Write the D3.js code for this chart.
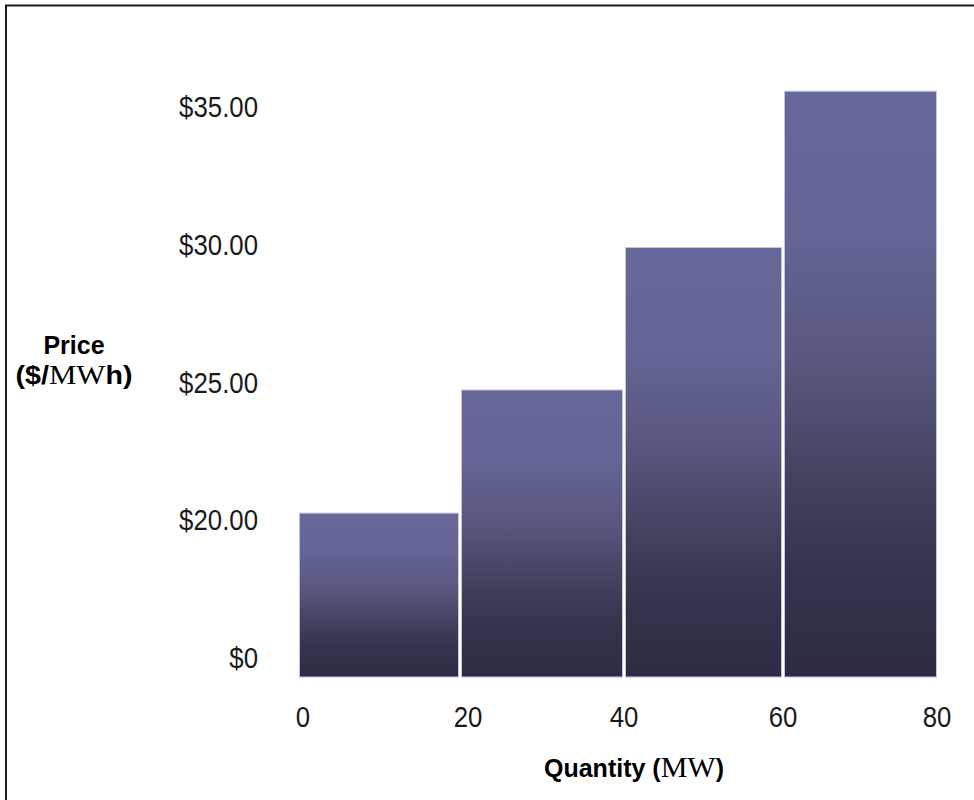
<!DOCTYPE html>
<html>
<head>
<meta charset="utf-8">
<script src="https://cdn.jsdelivr.net/npm/d3@7"></script>
<style>
  html, body { margin: 0; padding: 0; background: #fff; }
  svg { display: block; }
</style>
</head>
<body>
<svg id="chart" width="974" height="800"></svg>
<script>
// ---- data ----
const quantityEdges = [0, 20, 40, 60, 80];           // MW block boundaries
const prices = [20.9, 25.35, 30.5, 36.15];           // $/MWh per block
const yTickValues = [0, 20, 25, 30, 35];
const yTickLabels = ["$0", "$20.00", "$25.00", "$30.00", "$35.00"];
const xTickValues = [0, 20, 40, 60, 80];
const xTickLabels = ["0", "20", "40", "60", "80"];

const blocks = prices.map((p, i) => ({ x0: quantityEdges[i], x1: quantityEdges[i + 1], price: p, i }));

const svg = d3.select("#chart");
const sans = "'Liberation Sans', Arial, sans-serif";
const serif = "'Liberation Serif', 'Times New Roman', serif";

// frame
svg.append("rect")
  .attr("x", 6).attr("y", 5.5).attr("width", 1100).attr("height", 1100)
  .attr("fill", "none").attr("stroke", "#1a1a1a").attr("stroke-width", 2);

// scales (piecewise to match original broken axis layout)
const x = d3.scaleLinear().domain(quantityEdges).range([299, 460, 624, 783, 937]);
const y = d3.scaleLinear().domain([0, 20, 35]).range([677, 538, 123]);

// gradient
const defs = svg.append("defs");
const grad = defs.append("linearGradient").attr("id", "barGrad")
  .attr("x1", 0).attr("y1", 0).attr("x2", 0).attr("y2", 1);
[["0%", "#67679a"], ["25%", "#646495"], ["48%", "#56567d"], ["66%", "#43425f"],
 ["82%", "#35344e"], ["100%", "#2d2c44"]].forEach(([o, c]) =>
  grad.append("stop").attr("offset", o).attr("stop-color", c));

// bars
svg.append("g").selectAll("rect").data(blocks).join("rect")
  .attr("x", d => x(d.x0) + (d.i > 0 ? 1.5 : 0.5))
  .attr("width", d => x(d.x1) - x(d.x0) - (d.i > 0 ? 1.5 : 0.5) - (d.i < prices.length - 1 ? 1.5 : 0.5))
  .attr("y", d => y(d.price))
  .attr("height", d => y(0) - y(d.price))
  .attr("fill", "url(#barGrad)")
  .attr("stroke", "#c4c4dc").attr("stroke-width", 1);

// y tick labels (equally spaced as in the original)
const yLabelScale = d3.scalePoint().domain(yTickValues).range([668, 117]);
svg.append("g").selectAll("text").data(yTickValues).join("text")
  .attr("transform", d => `translate(258,${yLabelScale(d)}) scale(0.86,1)`)
  .attr("text-anchor", "end")
  .attr("font-family", sans)
  .attr("font-size", 30)
  .attr("fill", "#1a1a1a")
  .text((d, i) => yTickLabels[i]);

// x tick labels
svg.append("g").selectAll("text").data(xTickValues).join("text")
  .attr("transform", d => `translate(${x(d) + (d === 0 ? 4 : d === 20 ? 8 : 0)},727) scale(0.86,1)`)
  .attr("text-anchor", "middle")
  .attr("font-family", sans)
  .attr("font-size", 30)
  .attr("fill", "#1a1a1a")
  .text((d, i) => xTickLabels[i]);

// axis titles
svg.append("text")
  .attr("x", 74).attr("y", 354).attr("text-anchor", "middle")
  .attr("font-family", sans).attr("font-weight", "bold").attr("font-size", 25)
  .attr("fill", "#000").text("Price");

const t2 = svg.append("text")
  .attr("transform", "translate(74,384) scale(1.1,1)")
  .attr("text-anchor", "middle")
  .attr("fill", "#000");
t2.append("tspan").attr("font-family", sans).attr("font-weight", "bold").attr("font-size", 26).text("($/");
t2.append("tspan").attr("font-family", serif).attr("font-weight", "normal").attr("font-size", 28).text("MW");
t2.append("tspan").attr("font-family", sans).attr("font-weight", "bold").attr("font-size", 26).text("h)");

const t3 = svg.append("text")
  .attr("x", 634).attr("y", 777).attr("text-anchor", "middle")
  .attr("fill", "#000");
t3.append("tspan").attr("font-family", sans).attr("font-weight", "bold").attr("font-size", 25).text("Quantity (");
t3.append("tspan").attr("font-family", serif).attr("font-weight", "normal").attr("font-size", 30).text("MW");
t3.append("tspan").attr("font-family", sans).attr("font-weight", "bold").attr("font-size", 25).text(")");
</script>
</body>
</html>
